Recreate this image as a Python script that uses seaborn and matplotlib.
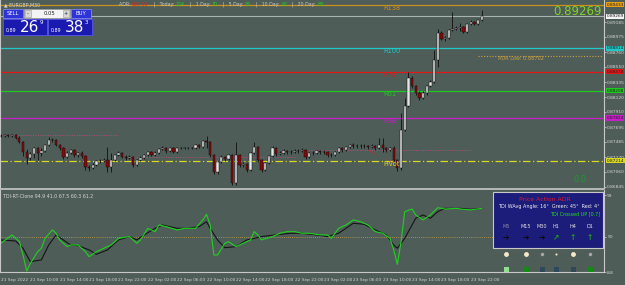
import matplotlib
matplotlib.use("Agg")
import matplotlib.pyplot as plt
from matplotlib.patches import Rectangle
import seaborn as sns

# %% data

first_open = 0.87569
closes = [
    0.87569, 0.87583, 0.87569, 0.87583, 0.87540, 0.87484, 0.87342, 0.87256, 0.87313, 0.87398,
    0.87327, 0.87356, 0.87441, 0.87512, 0.87505, 0.87441, 0.87398, 0.87271, 0.87327, 0.87370,
    0.87299, 0.87327, 0.87285, 0.87129, 0.87114, 0.87157, 0.87214, 0.87210, 0.87228, 0.87129,
    0.87228, 0.87299, 0.87327, 0.87271, 0.87256, 0.87271, 0.87157, 0.87228, 0.87256, 0.87299,
    0.87342, 0.87299, 0.87327, 0.87384, 0.87398, 0.87356, 0.87398, 0.87342, 0.87398, 0.87395,
    0.87400, 0.87396, 0.87399, 0.87441, 0.87413, 0.87498, 0.87484, 0.87299, 0.87058, 0.87200,
    0.87271, 0.87242, 0.87299, 0.86901, 0.87299, 0.87157, 0.87171, 0.87086, 0.87327, 0.87413,
    0.87228, 0.87086, 0.87185, 0.87285, 0.87398, 0.87313, 0.87327, 0.87356, 0.87342, 0.87345,
    0.87356, 0.87352, 0.87370, 0.87271, 0.87327, 0.87324, 0.87356, 0.87342, 0.87345, 0.87299,
    0.87295, 0.87342, 0.87398, 0.87370, 0.87413, 0.87441, 0.87427, 0.87424, 0.87430, 0.87427,
    0.87413, 0.87427, 0.87398, 0.87441, 0.87398, 0.87370, 0.87398, 0.87228, 0.87114, 0.87654,
    0.87995, 0.88392, 0.88279, 0.88179, 0.88108, 0.88179, 0.88279, 0.88336, 0.88648, 0.89031,
    0.88946, 0.88960, 0.89074, 0.89088, 0.89102, 0.89117, 0.89046, 0.89159, 0.89188, 0.89159,
    0.89216, 0.89269,
]
highs = [
    0.87597, 0.87597, 0.87597, 0.87597, 0.87597, 0.87569, 0.87498, 0.87384, 0.87342, 0.87413,
    0.87413, 0.87398, 0.87455, 0.87555, 0.87540, 0.87526, 0.87455, 0.87413, 0.87356, 0.87384,
    0.87384, 0.87342, 0.87356, 0.87299, 0.87157, 0.87185, 0.87228, 0.87242, 0.87256, 0.87413,
    0.87327, 0.87313, 0.87356, 0.87342, 0.87299, 0.87299, 0.87285, 0.87242, 0.87285, 0.87313,
    0.87356, 0.87356, 0.87356, 0.87398, 0.87427, 0.87413, 0.87413, 0.87413, 0.87413, 0.87413,
    0.87413, 0.87413, 0.87413, 0.87455, 0.87455, 0.87512, 0.87569, 0.87498, 0.87313, 0.87214,
    0.87299, 0.87285, 0.87313, 0.87313, 0.87484, 0.87313, 0.87200, 0.87185, 0.87342, 0.87484,
    0.87427, 0.87242, 0.87200, 0.87299, 0.87427, 0.87413, 0.87356, 0.87384, 0.87370, 0.87370,
    0.87384, 0.87384, 0.87398, 0.87384, 0.87342, 0.87356, 0.87370, 0.87370, 0.87370, 0.87356,
    0.87327, 0.87356, 0.87413, 0.87413, 0.87427, 0.87455, 0.87469, 0.87455, 0.87455, 0.87455,
    0.87441, 0.87455, 0.87441, 0.87540, 0.87540, 0.87413, 0.87413, 0.87427, 0.87242, 0.87895,
    0.88108, 0.88478, 0.88421, 0.88293, 0.88208, 0.88208, 0.88293, 0.88364, 0.88790, 0.89088,
    0.89060, 0.88989, 0.89088, 0.89330, 0.89131, 0.89173, 0.89131, 0.89173, 0.89216, 0.89202,
    0.89230, 0.89358,
]
lows = [
    0.87555, 0.87555, 0.87555, 0.87555, 0.87526, 0.87469, 0.87285, 0.87171, 0.87228, 0.87256,
    0.87228, 0.87285, 0.87342, 0.87427, 0.87484, 0.87427, 0.87370, 0.87242, 0.87256, 0.87313,
    0.87271, 0.87271, 0.87256, 0.87086, 0.87072, 0.87100, 0.87143, 0.87185, 0.87200, 0.87058,
    0.87058, 0.87214, 0.87285, 0.87256, 0.87228, 0.87242, 0.87129, 0.87143, 0.87214, 0.87242,
    0.87285, 0.87285, 0.87285, 0.87313, 0.87370, 0.87327, 0.87342, 0.87327, 0.87327, 0.87384,
    0.87384, 0.87384, 0.87384, 0.87384, 0.87398, 0.87398, 0.87398, 0.87271, 0.87029, 0.87029,
    0.87185, 0.87214, 0.87228, 0.86873, 0.86873, 0.87129, 0.87129, 0.87058, 0.87072, 0.87313,
    0.87200, 0.87058, 0.87072, 0.87171, 0.87271, 0.87285, 0.87299, 0.87313, 0.87313, 0.87313,
    0.87327, 0.87327, 0.87342, 0.87242, 0.87256, 0.87299, 0.87313, 0.87313, 0.87313, 0.87271,
    0.87271, 0.87285, 0.87327, 0.87342, 0.87356, 0.87398, 0.87398, 0.87398, 0.87398, 0.87398,
    0.87384, 0.87398, 0.87370, 0.87384, 0.87342, 0.87342, 0.87356, 0.87214, 0.87072, 0.87086,
    0.87640, 0.87981, 0.88250, 0.88151, 0.88080, 0.88094, 0.88151, 0.88265, 0.88321, 0.88549,
    0.88932, 0.88918, 0.88946, 0.89060, 0.89074, 0.89060, 0.89031, 0.89031, 0.89145, 0.89145,
    0.89145, 0.89202,
]
opens = [first_open] + closes[:-1]

# fibo pivot levels
level_names = ["R138", "R100", "R78", "R61", "R38", "Pivot"]
level_prices = [0.89433, 0.88814, 0.88478, 0.88208, 0.87824, 0.87214]
level_colors = ["#c8901e", "#20c8c8", "#e01818", "#1ec81e", "#c81ec8", "#d8d820"]
bid = 0.89269
adr_low = 0.88702

price_ticks = [0.89185, 0.88975, 0.88760, 0.88550, 0.88335, 0.88120,
               0.87910, 0.87695, 0.87485, 0.87270, 0.87060, 0.86845]

time_labels = ["21 Sep 2022", "21 Sep 10:00", "21 Sep 14:00", "21 Sep 18:00", "21 Sep 22:00",
               "22 Sep 02:00", "22 Sep 06:00", "22 Sep 10:00", "22 Sep 14:00", "22 Sep 18:00",
               "22 Sep 22:00", "23 Sep 02:00", "23 Sep 06:00", "23 Sep 10:00", "23 Sep 14:00",
               "23 Sep 18:00", "23 Sep 22:00"]

# TDI lines (bar index, value)
green_bar = [0, 3, 5, 6, 7, 8, 10, 11, 12, 14, 15, 16, 18, 19, 21, 23, 24, 26, 28, 30,
             32, 35, 37, 38, 40, 42, 43, 45, 48, 50, 53, 55, 56, 57, 58, 59, 61, 62, 64, 66,
             68, 69, 70, 71, 74, 76, 78, 80, 82, 84, 87, 89, 90, 92, 94, 96, 98, 100, 102, 104,
             106, 107, 108, 109, 110, 112, 113, 115, 117, 119, 121, 124, 126, 128, 131]
green_val = [42.6, 52.4, 44.5, 28.8, 10.0, 19.1, 32.7, 36.7, 48.4, 58.3, 54.4, 46.5, 38.7, 40.6,
             40.6, 32.7, 26.9, 32.7, 36.7, 40.6, 48.4, 50.5, 42.6, 46.5, 60.2, 56.3, 64.1, 62.2,
             58.3, 60.2, 60.2, 70.1, 76.7, 64.1, 28.8, 28.8, 42.6, 44.5, 38.7, 42.6, 46.5, 56.3,
             52.4, 46.5, 50.5, 54.4, 56.3, 56.3, 54.4, 54.4, 52.4, 52.4, 48.4, 60.2, 64.1, 70.1,
             68.0, 64.1, 56.3, 54.4, 48.4, 34.8, 17.8, 44.5, 79.8, 82.9, 75.9, 70.1, 75.9, 84.5,
             82.9, 83.7, 82.6, 81.9, 83.7]
black_bar = [0, 4, 6, 8, 11, 13, 15, 17, 19, 21, 24, 26, 29, 32, 35, 37, 39, 42, 44, 48,
             51, 54, 56, 57, 59, 61, 64, 67, 69, 71, 76, 79, 82, 86, 89, 92, 94, 96, 99, 101,
             103, 105, 107, 108, 110, 113, 115, 117, 119, 121, 125, 128, 131]
black_val = [46.5, 45.3, 36.7, 21.0, 23.0, 40.6, 52.4, 46.5, 40.6, 39.8, 34.8, 29.6, 34.8, 46.5,
             50.5, 46.5, 52.4, 60.2, 64.1, 60.2, 60.2, 62.2, 68.0, 60.2, 46.5, 37.4, 38.7, 46.5,
             48.4, 50.5, 53.1, 54.4, 54.4, 52.4, 50.5, 54.4, 60.2, 66.2, 64.9, 60.2, 56.3, 52.4,
             40.6, 36.7, 48.4, 72.0, 75.9, 72.0, 79.8, 83.7, 83.7, 82.6, 83.7]

# %% figure
BG = "#4f5d59"
FG = "#d4d4d4"
W, H = 625, 285

sns.set_style("dark")
plt.rcParams["font.family"] = ["DejaVu Sans"]
fig = plt.figure(figsize=(W / 100, H / 100), dpi=100, facecolor=BG)


def px_axes(x0, y0, x1, y1):
    return fig.add_axes([x0 / W, 1 - y1 / H, (x1 - x0) / W, (y1 - y0) / H])


ax = px_axes(0, 0, 604, 188)
axi = px_axes(0, 190, 604, 272)
bar_px = 3.67
xlim = (-1 / bar_px, (604 - 1) / bar_px)

for a in (ax, axi):
    a.set_facecolor(BG)
    a.set_xlim(*xlim)
    for s in ("top", "bottom"):
        a.spines[s].set_visible(False)
    for s in ("left", "right"):
        a.spines[s].set_color("#c8c8c8")
        a.spines[s].set_linewidth(0.8)
    a.grid(False)

# price pane
ax.set_ylim(0.86830, 0.89500)
idx = list(range(len(closes)))
up = [c >= o for o, c in zip(opens, closes)]
ax.vlines(idx, lows, highs, color="#101010", lw=0.6, zorder=3)
ax.bar(idx, [c - o for o, c in zip(opens, closes)], bottom=opens, width=0.62,
       color=["#e6e6e6" if u else "#8a0808" for u in up],
       edgecolor="#101010", linewidth=0.35, zorder=4)

for name, p, c in zip(level_names, level_prices, level_colors):
    if name == "Pivot":
        ax.axhline(p, color=c, lw=0.9, ls=(0, (6, 2, 1, 2)), zorder=2)
    else:
        ax.axhline(p, color=c, lw=0.9, zorder=2)
    ax.text(104.3, p, name, color=c, fontsize=4.8, va="top", ha="left", zorder=5)
ax.axhline(bid, color="#a8b4b0", lw=0.8, zorder=2)
ax.plot([130, 164], [adr_low, adr_low], color="#c8a040", lw=0.8, ls=(0, (1, 1.5)), zorder=2)
ax.text(135.5, adr_low, "ADR Low: 0.88702", color="#c8a040", fontsize=3.6, va="top", ha="left")

# previous session levels (dotted)
ax.plot([0, 32], [0.87583, 0.87583], color="#b0507a", lw=0.7, ls=(0, (1, 1.5)))
ax.plot([35, 80], [0.87271, 0.87271], color="#b0507a", lw=0.7, ls=(0, (1, 1.5)))
ax.plot([83, 128], [0.87370, 0.87370], color="#b0507a", lw=0.7, ls=(0, (1, 1.5)))
ax.plot([100, 107], [0.87370, 0.87185], color="#c03030", lw=0.7, ls=(0, (1, 1.5)))

ax.yaxis.tick_right()
ax.set_yticks(price_ticks)
ax.set_yticklabels([f"{t:.5f}" for t in price_ticks])
ax.tick_params(axis="y", colors=FG, labelsize=3.2, length=1.5, width=0.5, pad=0.8)
ax.set_xticks([])

tag_prices = [level_prices[0], bid] + level_prices[1:]
tag_colors = ["#e8a018", "#f4f4f4"] + level_colors[1:]
for p, c in zip(tag_prices, tag_colors):
    ax.text(1.004, p, f"{p:.5f}", transform=ax.get_yaxis_transform(), fontsize=3.1,
            va="center", ha="left", color="#202020",
            bbox=dict(boxstyle="square,pad=0.12", fc=c, ec="none"), clip_on=False)

ax.text(0.996, 0.975, f"{bid:.5f}", transform=ax.transAxes, color="#7ed321",
        fontsize=8.5, ha="right", va="top")
ax.text(0.972, 0.02, "0.0", transform=ax.transAxes, color="#1c9a2c", fontsize=6, ha="right", va="bottom")

# TDI pane
axi.set_ylim(8.8, 105.3)
axi.axhline(50, color="#c8a040", lw=0.6, ls=(0, (1, 1.5)))
sns.lineplot(x=black_bar, y=black_val, color="#141414", lw=0.8, ax=axi)
sns.lineplot(x=green_bar, y=green_val, color="#1ed21e", lw=0.8, ax=axi)
axi.yaxis.tick_right()
axi.set_yticks([99.4, 50, 8.8])
axi.set_yticklabels(["99", "50", "8.8"])
axi.tick_params(axis="y", colors=FG, labelsize=3.2, length=1.5, width=0.5, pad=0.8)
axi.set_xticks(range(0, 8 * len(time_labels), 8))
axi.set_xticklabels(time_labels)
axi.tick_params(axis="x", colors=FG, labelsize=3.1, length=2, width=0.5, pad=2)
for lbl in axi.get_xticklabels():
    lbl.set_ha("left")
axi.set_xlabel("")
axi.set_ylabel("")
axi.spines["bottom"].set_visible(True)
axi.spines["bottom"].set_color("#c8c8c8")
axi.text(0.005, 0.95, "TDI-RT-Clone 94.9 41.0 67.5 60.3 61.2", transform=axi.transAxes,
         color=FG, fontsize=3.4, va="top", ha="left")

# %% overlay: separators, trade panel, info box
ov = fig.add_axes([0, 0, 1, 1], zorder=10)
ov.set_xlim(0, W)
ov.set_ylim(H, 0)
ov.axis("off")
ov.patch.set_alpha(0)

ov.plot([0, 604], [189, 189], color="#c8c8c8", lw=1.2)
ov.text(4, 4.5, "\u25b2 EURGBP,M30", color=FG, fontsize=3.4, va="center", ha="left")

adr_parts = [("ADR: ", "#c8c8c8"), ("000.00", "#e02020"), ("   |   Today: ", "#c8c8c8"), ("224", "#20d020"),
             ("   |   1 Day: ", "#c8c8c8"), ("70", "#20d020"), ("   |   5 Day: ", "#c8c8c8"), ("86", "#20d020"),
             ("   |   10 Day: ", "#c8c8c8"), ("82", "#20d020"), ("   |   20 Day: ", "#c8c8c8"), ("88", "#20d020")]
t = ov.text(119, 7, adr_parts[0][0], color=adr_parts[0][1], fontsize=3.4, va="bottom", ha="left")
for txt, c in adr_parts[1:]:
    t = ov.annotate(txt, xy=(1, 0), xycoords=t, color=c, fontsize=3.4, va="bottom", ha="left")

# one-click trading panel
ov.add_patch(Rectangle((3, 9), 20, 9, fc="#2e34d8", ec="#8a90ff", lw=0.5))
ov.text(13, 13.5, "SELL", color="white", fontsize=3.8, ha="center", va="center")
ov.add_patch(Rectangle((24, 9), 46, 9, fc="#f4f4f4", ec="#9a9a9a", lw=0.5))
ov.add_patch(Rectangle((25, 10), 6, 7, fc="#d8d8d8", ec="#9a9a9a", lw=0.4))
ov.add_patch(Rectangle((63, 10), 6, 7, fc="#d8d8d8", ec="#9a9a9a", lw=0.4))
ov.text(28, 13.5, "-", color="#202020", fontsize=3.5, ha="center", va="center")
ov.text(66, 13.5, "+", color="#202020", fontsize=3.5, ha="center", va="center")
ov.text(55, 13.5, "0.05", color="#202020", fontsize=3.8, ha="right", va="center")
ov.add_patch(Rectangle((71, 9), 20, 9, fc="#2e34d8", ec="#8a90ff", lw=0.5))
ov.text(81, 13.5, "BUY", color="white", fontsize=3.8, ha="center", va="center")
for x0, big, small in [(3, "26", "9"), (48, "38", "3")]:
    ov.add_patch(Rectangle((x0, 19), 43.5, 16, fc="#1a1ab0", ec="#5a5aff", lw=0.5))
    ov.text(x0 + 3, 30, "0.89", color="white", fontsize=3.4, ha="left", va="center")
    ov.text(x0 + 17, 27.5, big, color="white", fontsize=11, ha="left", va="center")
    ov.text(x0 + 37, 22.5, small, color="white", fontsize=4, ha="left", va="center")

# TDI info box
ov.add_patch(Rectangle((493, 192), 110, 56, fc="#1c1c7a", ec="#c8c8c8", lw=0.8))
ov.text(545, 199.5, "Price Action ADR", color="#e01830", fontsize=4.4, ha="center", va="center")
ov.text(600, 206.5, "TDI WAvg Angle: 16\u00b0  Green: 45\u00b0  Red: 4\u00b0", color="#f0f0f0",
        fontsize=3.5, ha="right", va="center")
ov.text(600, 213.5, "TDI Crossed UP [0.7]", color="#20e020", fontsize=3.5, ha="right", va="center")
tf_x = [506, 526, 542, 556, 573, 590]
tf_names = ["M5", "M15", "M30", "H1", "H4", "D1"]
tf_arrows = ["\u2794", "\u2794", "\u2794", "\u2197", "\u2191", "\u2191"]
tf_arrow_colors = ["#0a0a0a", "#0a0a0a", "#0a0a0a", "#1ea01e", "#1ea01e", "#1ea01e"]
for xx, n, a, c in zip(tf_x, tf_names, tf_arrows, tf_arrow_colors):
    ov.text(xx, 227, n, color="#8a8aa8" if n == "M5" else "#e0e0e0", fontsize=3.5, ha="center", va="center")
    ov.text(xx, 237, a, color=c, fontsize=5.5, ha="center", va="center", fontweight="bold")
dot_colors = ["#f4e8c8", "#f4e8c8", "#a8a8a8", "#f4e8c8", "#f4e8c8", "#a8a8a8"]
dot_sizes = [3.5, 3.5, 2.5, 1.5, 3.5, 2.5]
sq_colors = ["#90e090", "#148c14", "#2e4a5a", "#2e4a5a", "#2e4a5a", "#148c14"]
for xx, dc, ds, sc in zip(tf_x, dot_colors, dot_sizes, sq_colors):
    ov.plot(xx, 254, "o", ms=ds, color=dc, mec="none")
    ov.add_patch(Rectangle((xx - 2.5, 266.5), 5, 5, fc=sc, ec="none"))

fig.savefig("out.png", dpi=100, facecolor=BG)
